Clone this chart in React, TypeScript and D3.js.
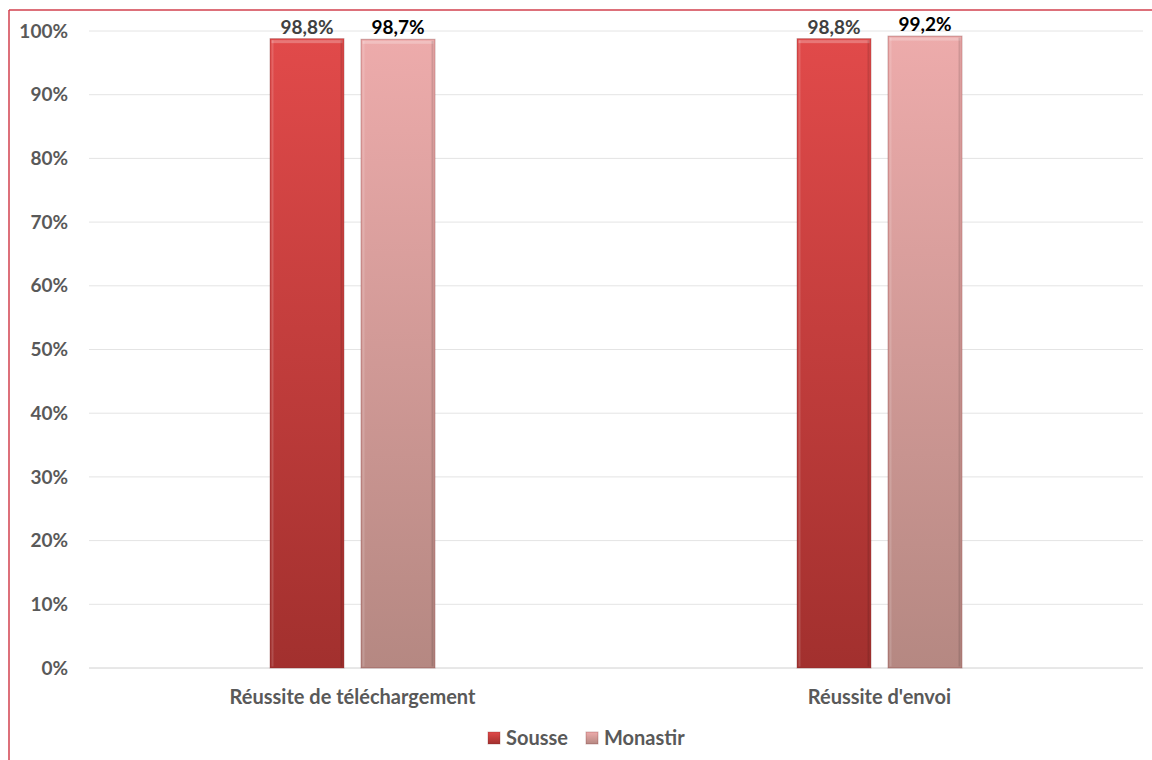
import React from "react";
import * as d3 from "d3";

const categories = ["Réussite de téléchargement", "Réussite d'envoi"];
const seriesNames = ["Sousse", "Monastir"];
const sousseValues = [98.8, 98.8];
const monastirValues = [98.7, 99.2];
const yTicks = [0, 10, 20, 30, 40, 50, 60, 70, 80, 90, 100];

const W = 1152, H = 760;
const margin = { left: 89, right: 9, top: 31, bottom: 92 };
const FONT = "Lato, 'Open Sans', sans-serif";

export default function App() {
  const x0 = d3.scaleBand<string>().domain(categories).range([margin.left, W - margin.right]);
  const y = d3.scaleLinear().domain([0, 100]).range([H - margin.bottom, margin.top]);
  const barW = 74, gap = 17;
  const series = [
    { name: seriesNames[0], values: sousseValues, grad: "gS", labelColor: "#404040" },
    { name: seriesNames[1], values: monastirValues, grad: "gM", labelColor: "#000000" },
  ];
  const groupW = barW * 2 + gap;
  return (
    <svg width={W} height={H} style={{ position: "absolute", left: 0, top: 0, background: "#fff" }}>
      <defs>
        <linearGradient id="gS" x1="0" y1="0" x2="0" y2="1">
          <stop offset="0" stopColor="#e14a4a" />
          <stop offset="1" stopColor="#a2302e" />
        </linearGradient>
        <linearGradient id="gM" x1="0" y1="0" x2="0" y2="1">
          <stop offset="0" stopColor="#edabab" />
          <stop offset="1" stopColor="#b58882" />
        </linearGradient>
      </defs>
      <line x1={9} y1={10} x2={W} y2={10} stroke="#d2414e" strokeWidth={1.5} />
      <line x1={9} y1={10} x2={9} y2={H} stroke="#d2414e" strokeWidth={1.5} />
      {yTicks.map((t) => (
        <g key={t}>
          <line x1={margin.left} x2={W - margin.right} y1={y(t)} y2={y(t)} stroke={t === 0 ? "#d0d0d0" : "#e4e4e4"} strokeWidth={1} />
          <text x={68} y={y(t)} dy="0.35em" textAnchor="end" fontFamily={FONT} fontWeight="bold" fontSize={19} fill="#595959">
            {t}%
          </text>
        </g>
      ))}
      {categories.map((c, ci) => {
        const cx = x0(c)! + x0.bandwidth() / 2;
        return (
          <g key={c}>
            {series.map((s, si) => {
              const bx = cx - groupW / 2 + si * (barW + gap);
              const by = y(s.values[ci]);
              const bh = y(0) - by;
              return (
                <g key={s.name}>
                  <rect x={bx} y={by} width={barW} height={bh} fill={`url(#${s.grad})`} stroke="#7a2a2a" strokeOpacity={0.35} strokeWidth={1} />
                  <rect x={bx + 1.5} y={by + 1.5} width={barW - 3} height={3} fill="#ffffff" opacity={0.25} />
                  <rect x={bx + 1.5} y={by + 1.5} width={2} height={bh - 3} fill="#ffffff" opacity={0.15} />
                  <rect x={bx + barW - 3.5} y={by + 1.5} width={2} height={bh - 3} fill="#000000" opacity={0.12} />
                  <text x={bx + barW / 2} y={by - 5} textAnchor="middle" fontFamily={FONT} fontWeight="bold" fontSize={19} fill={s.labelColor}>
                    {s.values[ci].toFixed(1).replace(".", ",")}%
                  </text>
                </g>
              );
            })}
            <text x={cx} y={697} dy="0.35em" textAnchor="middle" fontFamily={FONT} fontWeight="bold" fontSize={20} fill="#595959">
              {c}
            </text>
          </g>
        );
      })}
      <g transform="translate(488,738)">
        <rect x={0} y={-6} width={12} height={12} fill="url(#gS)" stroke="#7a2a2a" strokeOpacity={0.3} />
        <text x={18} y={0} dy="0.35em" fontFamily={FONT} fontWeight="bold" fontSize={20} fill="#595959">{seriesNames[0]}</text>
        <rect x={98} y={-6} width={12} height={12} fill="url(#gM)" stroke="#7a2a2a" strokeOpacity={0.3} />
        <text x={116} y={0} dy="0.35em" fontFamily={FONT} fontWeight="bold" fontSize={20} fill="#595959">{seriesNames[1]}</text>
      </g>
    </svg>
  );
}
